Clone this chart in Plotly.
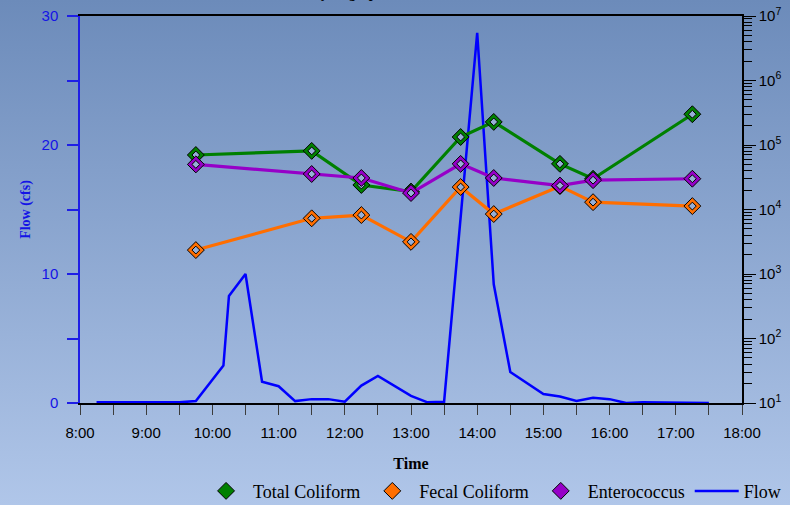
import base64
import plotly.graph_objects as go

# ---------------- data ----------------
flow_times = ["8:15", "8:30", "9:00", "9:30", "9:45", "10:10", "10:15", "10:30", "10:45",
              "11:00", "11:15", "11:30", "11:45", "12:00", "12:15", "12:30", "13:00",
              "13:15", "13:30", "14:00", "14:15", "14:30", "15:00", "15:15", "15:30",
              "15:45", "16:00", "16:15", "16:30", "17:00", "17:30"]
flow_cfs = [0.05, 0.05, 0.0, 0.05, 0.15, 2.9, 8.3, 10.0, 1.65,
            1.3, 0.15, 0.3, 0.3, 0.1, 1.35, 2.1, 0.55,
            0.05, 0.1, 28.7, 9.2, 2.4, 0.7, 0.5, 0.15,
            0.4, 0.3, 0.0, 0.05, 0.0, 0.0]

sample_times = ["9:45", "11:30", "12:15", "13:00", "13:45", "14:15", "15:15", "15:45", "17:15"]
total_coliform = [70000, 81000, 24000, 19000, 133000, 228000, 51000, 30000, 300000]
fecal_coliform = [2350, 7300, 8200, 3150, 22300, 8500, 23000, 13000, 11300]
enterococcus = [50000, 35500, 30800, 18000, 51000, 30800, 23500, 28500, 30000]

x_tick_labels = ["8:00", "9:00", "10:00", "11:00", "12:00", "13:00", "14:00",
                 "15:00", "16:00", "17:00", "18:00"]
y2_tick_labels = ["10<sup>1</sup>", "10<sup>2</sup>", "10<sup>3</sup>", "10<sup>4</sup>",
                  "10<sup>5</sup>", "10<sup>6</sup>", "10<sup>7</sup>"]


def to_hours(t):
    h, m = t.split(":")
    return int(h) + int(m) / 60.0


fx = [to_hours(t) for t in flow_times]
sx = [to_hours(t) for t in sample_times]
xticks = [to_hours(t) for t in x_tick_labels]
y2ticks = [10 ** (i + 1) for i in range(len(y2_tick_labels))]

fig = go.Figure()

# flow line
fig.add_trace(go.Scatter(
    x=fx, y=flow_cfs, name="Flow", mode="lines",
    line=dict(color="rgb(0,0,255)", width=2.5),
    yaxis="y", legendrank=4,
))

series = [
    ("Total Coliform", total_coliform, "rgb(0,128,0)", 1),
    ("Fecal Coliform", fecal_coliform, "rgb(255,110,0)", 2),
    ("Enterococcus", enterococcus, "rgb(150,0,200)", 3),
]
for name, vals, col, rank in series:
    fig.add_trace(go.Scatter(
        x=sx, y=vals, mode="lines", showlegend=False, hoverinfo="skip",
        line=dict(color=col, width=3.2), yaxis="y2",
    ))
    fig.add_trace(go.Scatter(
        x=sx, y=vals, name=name, mode="markers",
        marker=dict(symbol="diamond", size=13, color=col,
                    line=dict(color="black", width=1)),
        yaxis="y2", legendrank=rank,
    ))
    fig.add_trace(go.Scatter(
        x=sx, y=vals, mode="markers", showlegend=False, hoverinfo="skip",
        marker=dict(symbol="diamond", size=6, color="rgba(150,175,215,1)",
                    line=dict(color="black", width=1)),
        yaxis="y2",
    ))

# gradient background via svg data uri
svg = ('<svg xmlns="http://www.w3.org/2000/svg" width="790" height="505" preserveAspectRatio="none">'
       '<defs><linearGradient id="g" x1="0" y1="0" x2="0" y2="1">'
       '<stop offset="0" stop-color="rgb(108,139,186)"/>'
       '<stop offset="1" stop-color="rgb(176,198,233)"/>'
       '</linearGradient></defs><rect width="790" height="505" fill="url(#g)"/></svg>')
src = "data:image/svg+xml;base64," + base64.b64encode(svg.encode()).decode()

W, H = 790, 505
ML, MR, MT, MB = 80, 48, 16, 102
PW, PH = W - ML - MR, H - MT - MB

fig.update_layout(
    width=W, height=H,
    margin=dict(l=ML, r=MR, t=MT, b=MB, pad=0, autoexpand=False),
    paper_bgcolor="rgb(145,170,212)",
    plot_bgcolor="rgba(0,0,0,0)",
    showlegend=True,
    images=[dict(source=src, xref="paper", yref="paper",
                 x=-ML / PW, y=1 + MT / PH, sizex=W / PW, sizey=H / PH,
                 xanchor="left", yanchor="top", sizing="stretch", layer="below")],
    xaxis=dict(
        range=[8, 18], tickvals=xticks, ticktext=x_tick_labels,
        ticks="outside", ticklen=10, tickcolor="rgb(60,60,60)", tickwidth=1,
        minor=dict(dtick=0.5, ticks="outside", ticklen=10, tickcolor="rgb(60,60,60)"),
        ticklabelstandoff=5,
        showline=True, linecolor="black", linewidth=1.5, mirror=True,
        showgrid=False, zeroline=False,
        tickfont=dict(family="Liberation Sans, Arial", size=15, color="black"),
        title=dict(text="<b>Time</b>", font=dict(family="Liberation Serif, Times New Roman",
                                                size=16, color="black"), standoff=18),
    ),
    yaxis=dict(
        range=[0, 30], tickvals=[0, 10, 20, 30],
        ticks="outside", ticklen=11, tickcolor="rgb(30,30,230)", tickwidth=1.5,
        minor=dict(dtick=5, ticks="outside", ticklen=11, tickcolor="rgb(30,30,230)"),
        ticklabelstandoff=6,
        showline=True, linecolor="rgb(30,30,230)", linewidth=1.5,
        showgrid=False, zeroline=False,
        tickfont=dict(family="Liberation Sans, Arial", size=15, color="rgb(20,20,230)"),
        title=dict(text="<b>Flow (cfs)</b>", font=dict(family="Liberation Serif, Times New Roman",
                                                      size=14, color="rgb(20,20,230)"), standoff=8),
    ),
    yaxis2=dict(
        type="log", range=[1, 7], overlaying="y", side="right",
        tickvals=y2ticks, ticktext=y2_tick_labels,
        ticks="outside", ticklen=12, tickcolor="black", tickwidth=1,
        minor=dict(dtick="D1", ticks="outside", ticklen=8, tickcolor="black"),
        showline=True, linecolor="black", linewidth=1.5,
        showgrid=False, zeroline=False,
        tickfont=dict(family="Liberation Sans, Arial", size=15, color="black"),
    ),
    legend=dict(orientation="h", xref="container", yref="container",
                x=0.995, xanchor="right", y=0.064, yanchor="top",
                bgcolor="rgba(0,0,0,0)",
                font=dict(family="Liberation Serif, Times New Roman", size=18, color="black"),
                itemwidth=44),
    annotations=[dict(text="<b>Hydrograph and Bacteria Results</b>", xref="paper", yref="paper",
                      x=0.5, y=1, xanchor="center", yanchor="bottom", yshift=13,
                      showarrow=False,
                      font=dict(family="Liberation Serif, Times New Roman", size=14, color="black"))],
)

fig.write_html("out.html", config={"displayModeBar": False},
               post_script="document.body.style.margin='0';document.body.style.padding='0';")
